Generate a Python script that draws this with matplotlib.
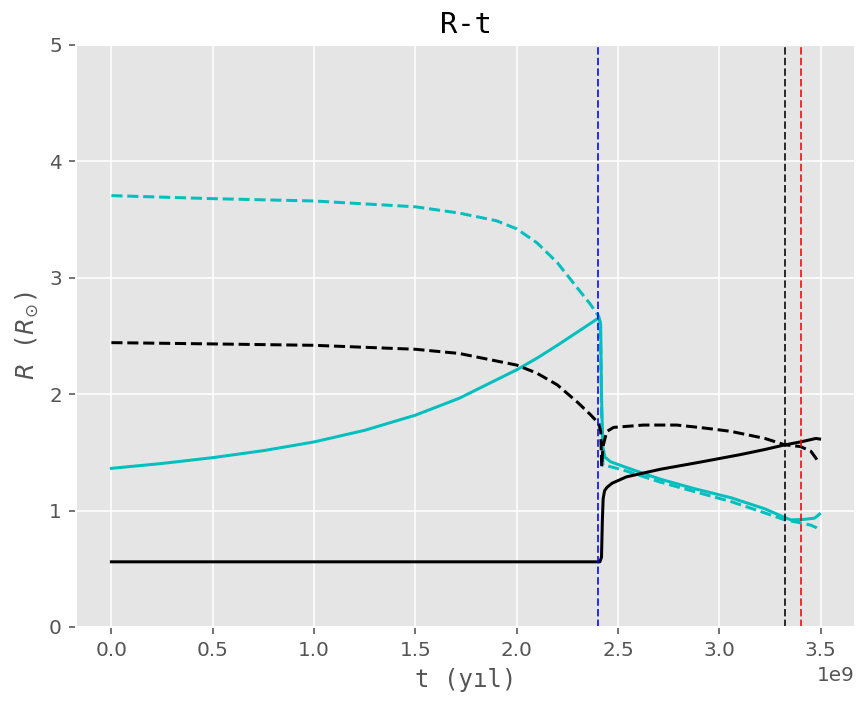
import matplotlib
matplotlib.use("Agg")
import matplotlib.pyplot as plt
import numpy as np

plt.style.use("ggplot")

# time in Gyr (converted to years for plotting), radius in solar radii
t_c_dash = [0.0, 0.5, 1.0, 1.5, 1.716, 1.9, 2.0, 2.1, 2.2, 2.3, 2.36, 2.404,
            2.412, 2.418, 2.425, 2.444, 2.478, 2.541, 2.708, 2.873, 3.058, 3.224,
            3.323, 3.40, 3.451, 3.476, 3.492]
R_c_dash = [3.706, 3.68, 3.66, 3.61, 3.556, 3.49, 3.42, 3.30, 3.13, 2.91, 2.78, 2.67,
            2.62, 1.9, 1.39, 1.385, 1.37, 1.34, 1.245, 1.165, 1.077, 0.98,
            0.92, 0.895, 0.875, 0.855, 0.83]

t_c_sol = [0.0, 0.25, 0.5, 0.75, 1.0, 1.25, 1.5, 1.716, 2.0, 2.1, 2.2, 2.3, 2.404,
           2.414, 2.418, 2.424, 2.435, 2.462, 2.541, 2.708, 2.873, 3.058, 3.224,
           3.323, 3.353, 3.42, 3.469, 3.494]
R_c_sol = [1.363, 1.405, 1.455, 1.515, 1.59, 1.69, 1.82, 1.965, 2.21, 2.31, 2.42, 2.535, 2.655,
           2.60, 2.0, 1.55, 1.46, 1.42, 1.37, 1.27, 1.19, 1.11, 1.015,
           0.94, 0.92, 0.925, 0.935, 0.97]

t_k_dash = [0.0, 0.5, 1.0, 1.5, 1.716, 2.0, 2.1, 2.2, 2.3, 2.36, 2.404,
            2.414, 2.419, 2.425, 2.444, 2.478, 2.626, 2.789, 2.897, 2.97, 3.058,
            3.224, 3.323, 3.40, 3.451, 3.476, 3.489]
R_k_dash = [2.443, 2.432, 2.42, 2.386, 2.35, 2.25, 2.18, 2.08, 1.93, 1.83, 1.75,
            1.68, 1.38, 1.55, 1.68, 1.715, 1.735, 1.735, 1.715, 1.70, 1.68,
            1.62, 1.565, 1.55, 1.51, 1.45, 1.41]

t_k_sol = [0.0, 0.5, 1.0, 1.5, 2.0, 2.41, 2.418, 2.422, 2.426, 2.433, 2.445, 2.47,
           2.541, 2.708, 2.9, 3.1, 3.224, 3.323, 3.40, 3.476, 3.494]
R_k_sol = [0.56, 0.56, 0.56, 0.56, 0.56, 0.56, 0.60, 0.90, 1.10, 1.17, 1.20, 1.235,
           1.29, 1.355, 1.415, 1.48, 1.525, 1.565, 1.59, 1.62, 1.615]

vlines = [2.40, 3.325, 3.40]
vcolors = ["b", "k", "r"]

fig = plt.figure(figsize=(859 / 144, 703 / 144), dpi=144)
ax = fig.add_axes([76 / 859, 1 - 627 / 703, (855 - 76) / 859, (627 - 45) / 703])

ax.plot(np.array(t_c_dash) * 1e9, R_c_dash, "c--")
ax.plot(np.array(t_c_sol) * 1e9, R_c_sol, "c-")
ax.plot(np.array(t_k_dash) * 1e9, R_k_dash, "k--")
ax.plot(np.array(t_k_sol) * 1e9, R_k_sol, "k-")

for v, col in zip(vlines, vcolors):
    ax.axvline(v * 1e9, color=col, linestyle="--", linewidth=1, alpha=0.8)

ax.set_ylim(0, 5)
ax.set_title("R-t", family="monospace")
ax.set_xlabel("t (yıl)", family="monospace")
ax.set_ylabel(r"$R$ ($R_{\odot}$)", family="monospace")

fig.savefig("out.png", dpi=144)
